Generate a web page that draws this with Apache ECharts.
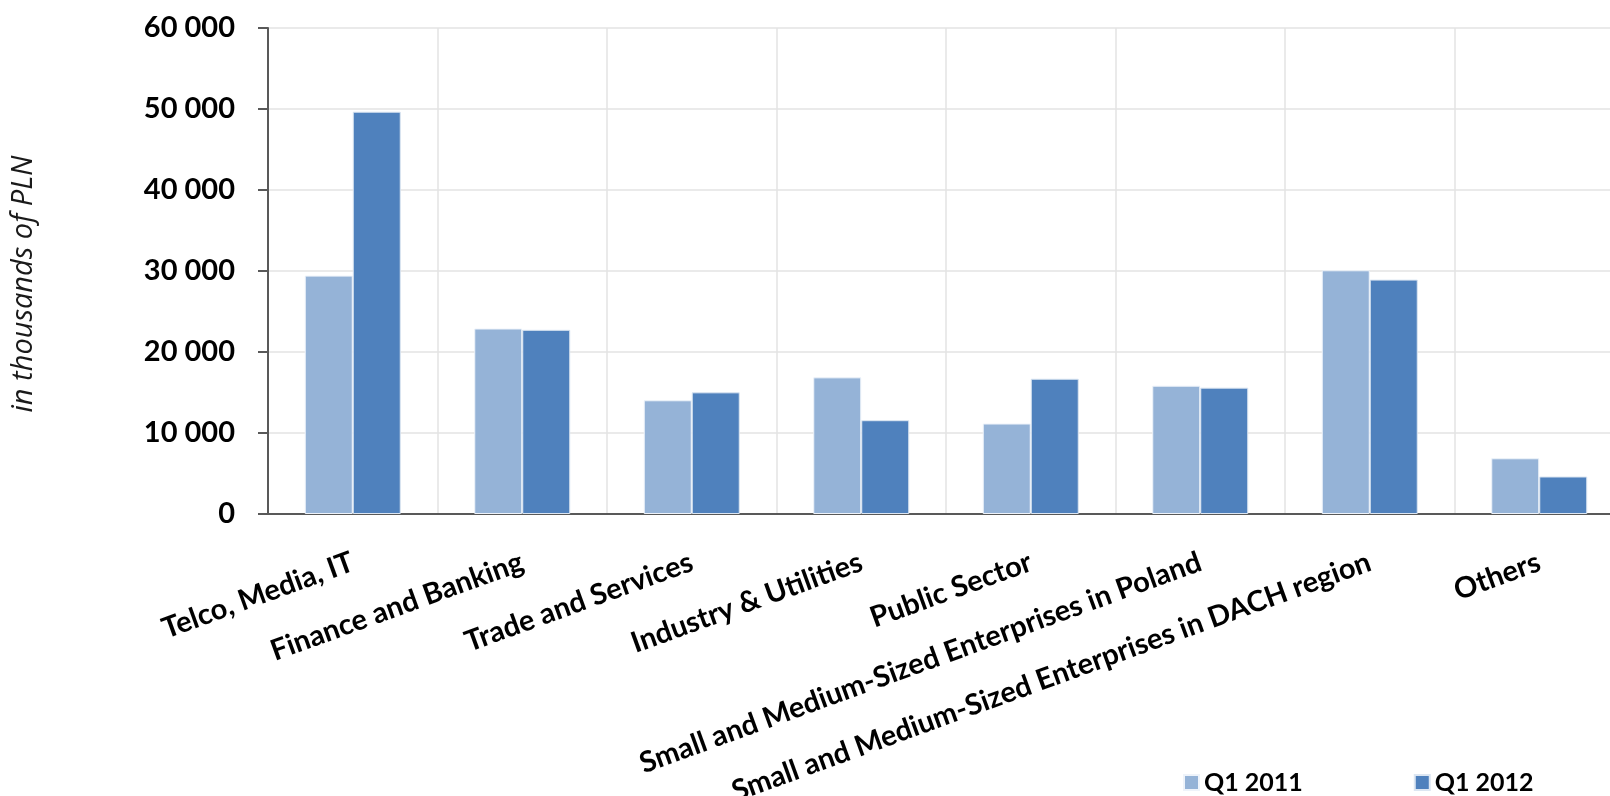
<!DOCTYPE html>
<html lang="en">
  <head>
    <meta charset="UTF-8" />
    <title>Revenue by sector</title>
    <script src="https://cdn.jsdelivr.net/npm/echarts@6/dist/echarts.min.js"></script>
    <style>
      html,
      body {
        margin: 0;
        padding: 0;
        background: #fff;
      }

      #main {
        width: 1610px;
        height: 796px;
      }
    </style>
  </head>

  <body>
    <div id="main"></div>
    <script>
      var sectors = [
        "Telco, Media, IT",
        "Finance and Banking",
        "Trade and Services",
        "Industry & Utilities",
        "Public Sector",
        "Small and Medium-Sized Enterprises in Poland",
        "Small and Medium-Sized Enterprises in DACH region",
        "Others"
      ];
      var q1_2011 = [29430, 22900, 14040, 16870, 11170, 15840, 30090, 6880];
      var q1_2012 = [49670, 22740, 15020, 11580, 16700, 15600, 28940, 4630];
      var yTicks = [0, 10000, 20000, 30000, 40000, 50000, 60000];

      var FONT = "Lato, 'Open Sans', sans-serif";

      function fmt(v) {
        return String(v).replace(/\B(?=(\d{3})+(?!\d))/g, " ");
      }

      var chart = echarts.init(document.getElementById("main"));
      chart.setOption({
        animation: false,
        textStyle: { fontFamily: FONT },
        grid: {
          left: 268,
          right: -14,
          top: 28,
          bottom: 282,
          containLabel: false,
          outerBoundsMode: "none"
        },
        legend: {
          left: 1178,
          top: 765,
          itemWidth: 15,
          itemHeight: 15,
          itemGap: 111,
          icon: "rect",
          textStyle: {
            fontFamily: FONT,
            fontSize: 25,
            fontWeight: "bold",
            color: "#000"
          },
          data: ["Q1 2011", "Q1 2012"]
        },
        xAxis: {
          type: "category",
          data: sectors,
          axisLine: { lineStyle: { color: "#595959", width: 2 } },
          axisTick: { length: 9, lineStyle: { color: "#595959", width: 2 } },
          splitLine: { show: true, lineStyle: { color: "#e3e3e3", width: 1.5 } },
          axisLabel: {
            interval: 0,
            rotate: 20,
            margin: 47,
            color: "#000",
            fontFamily: FONT,
            fontWeight: "bold",
            fontSize: 29
          }
        },
        yAxis: {
          type: "value",
          min: yTicks[0],
          max: yTicks[yTicks.length - 1],
          interval: 10000,
          name: "in thousands of PLN",
          nameLocation: "middle",
          nameRotate: 90,
          nameGap: 230,
          nameTextStyle: {
            fontFamily: "'Open Sans', Lato, sans-serif",
            fontStyle: "italic",
            fontSize: 29,
            color: "#1a1a1a",
            padding: [0, 26, 0, 0]
          },
          axisLine: { show: true, lineStyle: { color: "#595959", width: 2 } },
          axisTick: { show: true, length: 10, lineStyle: { color: "#595959", width: 2 } },
          splitLine: { lineStyle: { color: "#e3e3e3", width: 1.5 } },
          axisLabel: {
            margin: 33,
            color: "#000",
            fontFamily: FONT,
            fontWeight: "bold",
            fontSize: 29,
            formatter: fmt
          }
        },
        series: [
          {
            name: "Q1 2011",
            type: "bar",
            data: q1_2011,
            barWidth: 48,
            barGap: "0%",
            itemStyle: { color: "#95b3d7", borderColor: "#eef3fa", borderWidth: 1 }
          },
          {
            name: "Q1 2012",
            type: "bar",
            data: q1_2012,
            barWidth: 48,
            barGap: "0%",
            itemStyle: { color: "#4f81bd", borderColor: "#dce6f2", borderWidth: 1 }
          }
        ]
      });
    </script>
  </body>
</html>
